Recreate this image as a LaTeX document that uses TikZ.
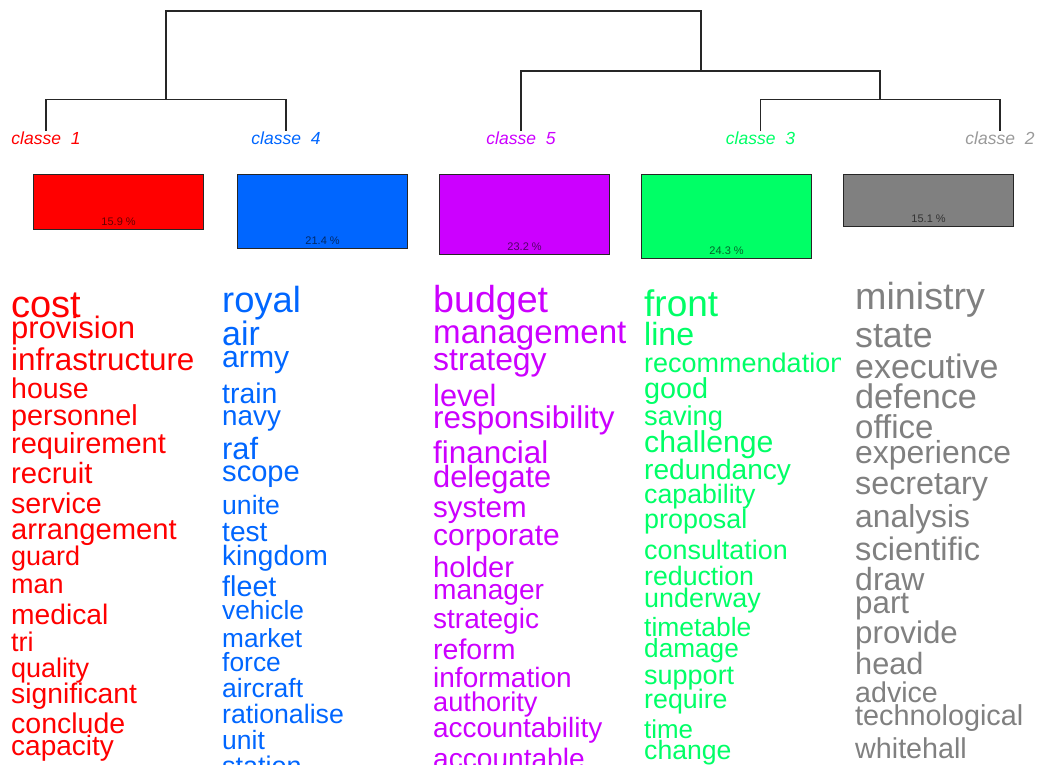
\documentclass[tikz,border=0pt]{standalone}
\usepackage{fontspec}
\setmainfont{Liberation Sans}
\usepackage{xcolor}
\usetikzlibrary{positioning}
\definecolor{cred}{HTML}{FF0000}
\definecolor{cblue}{HTML}{0066FF}
\definecolor{cpurple}{HTML}{CC00FF}
\definecolor{cgreen}{HTML}{00FF66}
\definecolor{cgray}{HTML}{808080}

\begin{document}
\begin{tikzpicture}[x=1pt,y=-1pt,
 leaf/.style={anchor=base,inner sep=0pt,font=\fontsize{17.5}{17.5}\selectfont\itshape},
 bar/.style={draw=black!85,line width=1.2pt,anchor=north west,minimum width=170pt,inner sep=0pt},
 pct/.style={inner sep=0pt,text=black,text opacity=.6,font=\fontsize{11}{11}\selectfont},
 word/.style={anchor=base west,inner sep=0pt,text=#1},
 link/.style={draw=black!85,line width=1.5pt}]
\clip (0,0) rectangle (1038,765);
\node[leaf,text=cred] (c1) at (46,144) {classe\ \ 1};
\node[leaf,text=cblue] (c4) at (286,144) {classe\ \ 4};
\node[leaf,text=cpurple] (c5) at (521,144) {classe\ \ 5};
\node[leaf,text=cgreen] (c3) at (760.5,144) {classe\ \ 3};
\node[leaf,text=cgray!80] (c2) at (1000,144) {classe\ \ 2};
\coordinate (m14) at (166,99.5);
\coordinate (m32) at (880,99.5);
\coordinate (m532) at (701,71);
\coordinate (root) at (434,11);
\draw[link] (c1.north) |- (m14) -| (c4.north);
\draw[link] (c3.north) |- (m32) -| (c2.north);
\draw[link] (c5.north) |- (m532) -| (m32);
\draw[link] (m14) |- (root) -| (m532);
\node[bar,fill=cred,minimum height=54.7pt] (b1) at (33,174) {};
\node[bar,fill=cblue,minimum height=73.6pt] (b4) at (237,174) {};
\node[bar,fill=cpurple,minimum height=79.8pt] (b5) at (439,174) {};
\node[bar,fill=cgreen,minimum height=83.6pt] (b3) at (641,174) {};
\node[bar,fill=cgray,minimum height=51.9pt] (b2) at (843,174) {};
\node[pct,above=4pt of b1.south] (p1) {15.9 \%};
\node[pct,above=4pt of b4.south] (p4) {21.4 \%};
\node[pct,above=4pt of b5.south] (p5) {23.2 \%};
\node[pct,above=4pt of b3.south] (p3) {24.3 \%};
\node[pct,above=4pt of b2.south] (p2) {15.1 \%};
\foreach \w/\s/\y in {cost/38/317,provision/31/338,infrastructure/31.4/370,house/28.5/398,
 personnel/28.8/425,requirement/29/453,recruit/29.3/483,service/28.6/513,arrangement/29.2/539,
 guard/27/565,man/27/593,medical/28.2/624,tri/27/651,quality/27/677,significant/28.3/703,
 conclude/28.5/733,capacity/28/755}
 \node[word=cred,font=\fontsize{\s}{\s}\selectfont] (r-\w) at (11,\y) {\w};
\foreach \w/\s/\y in {royal/36.3/312,air/33.9/345,army/30.2/367,train/28.4/403,navy/27.8/425,
 raf/30.8/459,scope/29.1/481,unite/26.6/514,test/28.1/541,kingdom/28/565,fleet/28.7/596,
 vehicle/26.3/619,market/26.2/647,force/26.4/671,aircraft/26.5/697,rationalise/26.7/723,
 unit/26.5/749,station/27/775}
 \node[word=cblue,font=\fontsize{\s}{\s}\selectfont] (b-\w) at (222,\y) {\w};
\foreach \w/\s/\y in {budget/37.6/312,management/33.1/343,strategy/31.9/370,level/30.8/406,
 responsibility/31.4/428,financial/31.4/463,delegate/30.8/487,system/29.5/517,corporate/30/545,
 holder/29.1/577,manager/28.1/599,strategic/28/628,reform/28.5/659,information/28/687,
 authority/27.2/711,accountability/27.9/737,accountable/28.1/768}
 \node[word=cpurple,font=\fontsize{\s}{\s}\selectfont] (v-\w) at (433,\y) {\w};
\begin{scope}
\clip (640,250) rectangle (840,765);
\foreach \w/\s/\y in {front/37/316,line/32.1/345,recommendation/27/372,good/28.8/398,
 saving/27.3/425,challenge/30.2/452,redundancy/28.1/479,capability/26.7/503,proposal/26.9/528,
 consultation/26.9/559,reduction/26.7/585,underway/26.9/607,timetable/26.4/636,damage/26.2/657,
 support/27/684,require/26.8/708,time/25.9/738,change/26.6/759}
 \node[word=cgreen,font=\fontsize{\s}{\s}\selectfont] (g-\w) at (644,\y) {\w};
\end{scope}
\foreach \w/\s/\y in {ministry/37.7/309,state/35.7/347,executive/33.9/378,defence/34.2/408,
 office/33/438,experience/31.9/463,secretary/32.3/494,analysis/31.8/527,scientific/32.6/560,
 draw/32/590,part/31.3/613,provide/31.3/643,head/30.7/674,advice/28.6/702,
 technological/28.8/725,whitehall/28.7/758}
 \node[word=cgray,font=\fontsize{\s}{\s}\selectfont] (k-\w) at (855,\y) {\w};
\end{tikzpicture}
\end{document}
